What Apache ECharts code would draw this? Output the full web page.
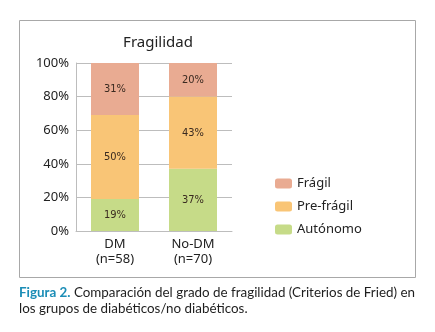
<!DOCTYPE html>
<html><head><meta charset="utf-8">
<script src="https://cdn.jsdelivr.net/npm/echarts@6/dist/echarts.min.js"></script>
<style>html,body{margin:0;padding:0;background:#fff}#c{width:435px;height:332px}</style>
</head><body><div id="c"></div>
<script>
const categories = ['DM\n(n=58)', 'No-DM\n(n=70)'];
const autonomo = [19, 37];
const prefragil = [50, 43];
const fragil = [31, 20];
const seriesNames = ['Autónomo', 'Pre-frágil', 'Frágil'];
const yTicks = [0, 20, 40, 60, 80, 100];

const chart = echarts.init(document.getElementById('c'));
const font = 'Noto Sans';
const lbl = {show: true, position: 'inside', formatter: '{c}%', color: '#3a2a20', fontFamily: '"DejaVu Sans Condensed", "Liberation Sans Narrow", sans-serif', fontSize: 11};
chart.setOption({
  animation: false,
  title: {text: 'Fragilidad', left: 153, top: 30, textAlign: 'center',
    textStyle: {fontFamily: font, fontSize: 15, fontWeight: 'normal', color: '#222'}},
  grid: {left: 76, top: 63, width: 156, height: 168},
  legend: {orient: 'vertical', left: 270, top: 172, itemWidth: 17, itemHeight: 10, itemGap: 10,
    data: ['Frágil', 'Pre-frágil', 'Autónomo'],
    textStyle: {fontFamily: font, fontSize: 13, color: '#222'}},
  xAxis: {type: 'category', data: categories,
    axisLine: {lineStyle: {color: '#bdbdbd'}}, axisTick: {show: false},
    axisLabel: {fontFamily: font, fontSize: 13, color: '#222', lineHeight: 15, margin: 6}},
  yAxis: {type: 'value', min: yTicks[0], max: yTicks[yTicks.length-1], interval: 20,
    axisLine: {show: true, lineStyle: {color: '#bdbdbd'}},
    splitLine: {lineStyle: {color: '#bdbdbd'}},
    axisLabel: {formatter: '{value}%', fontFamily: font, fontSize: 13, color: '#222', margin: 7}},
  series: [
    {name: seriesNames[0], type: 'bar', stack: 's', data: autonomo, barWidth: 48, itemStyle: {color: '#C6DB88'}, label: lbl},
    {name: seriesNames[1], type: 'bar', stack: 's', data: prefragil, barWidth: 48, itemStyle: {color: '#F9C576'}, label: lbl},
    {name: seriesNames[2], type: 'bar', stack: 's', data: fragil, barWidth: 48, itemStyle: {color: '#E9AB92'}, label: lbl}
  ],
  graphic: [
    {type: 'rect', shape: {x: 19.5, y: 20.5, width: 396, height: 257}, style: {fill: 'none', stroke: '#a8a8a8', lineWidth: 1}, silent: true, z: -1},
    {type: 'text', left: 19, top: 285, style: {
      text: '{b|Figura 2.} Comparación del grado de fragilidad (Criterios de Fried) en\nlos grupos de diabéticos/no diabéticos.',
      fontFamily: 'Lato', fontSize: 13.4, lineHeight: 16, fill: '#1e1e1e',
      rich: {b: {fontFamily: 'Lato', fontSize: 13.4, fontWeight: 'bold', fill: '#1B8DB6', color: '#1B8DB6'}}}}
  ]
});
</script></body></html>
